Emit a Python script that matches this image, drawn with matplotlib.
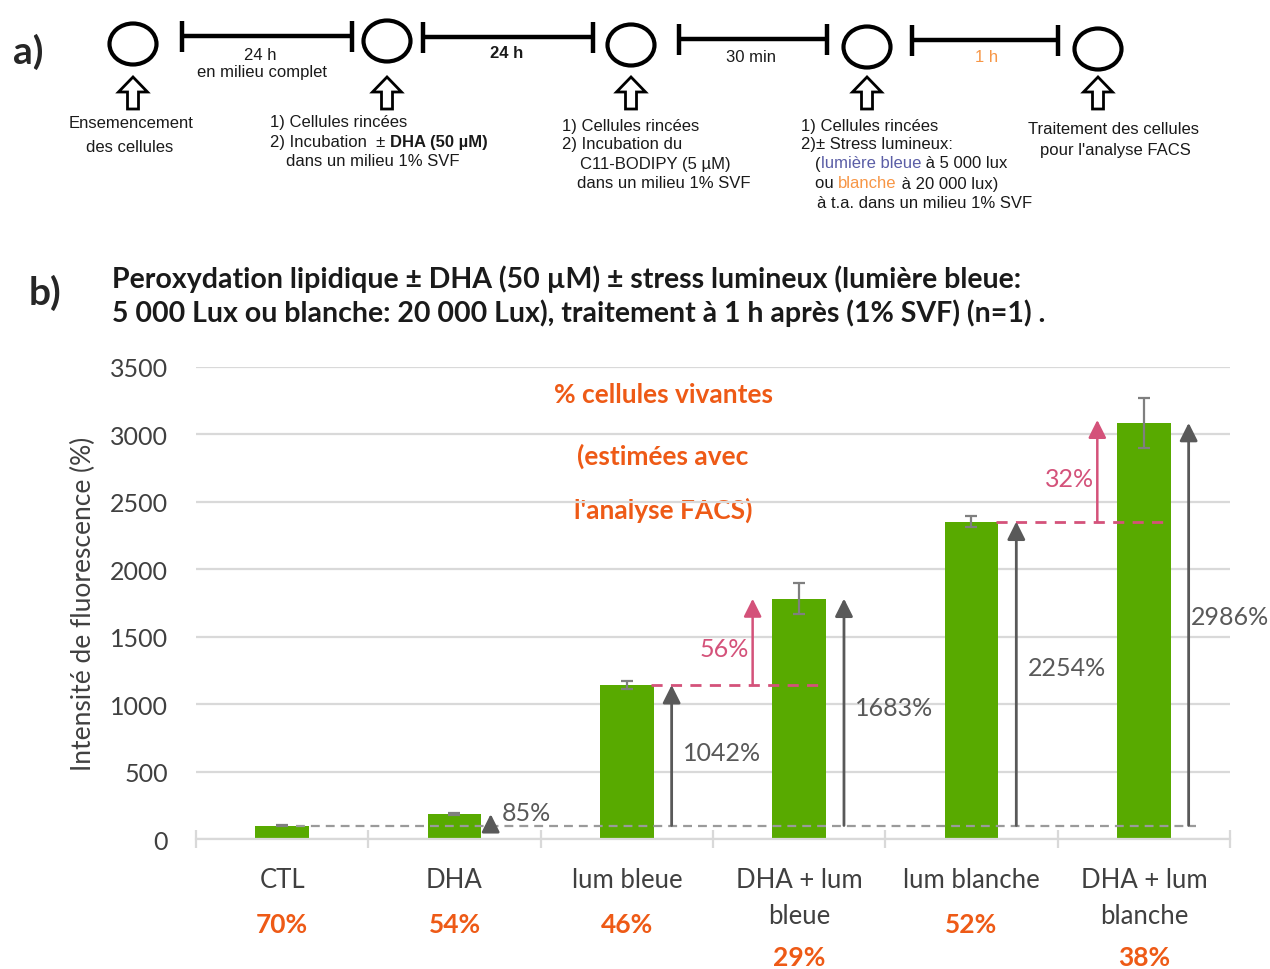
import matplotlib
matplotlib.use('Agg')
import matplotlib.pyplot as plt
import matplotlib.transforms as mtransforms
from matplotlib import font_manager
from matplotlib.patches import Ellipse, FancyArrow

# lipid peroxidation, fluorescence intensity (% of CTL)
categories = ['CTL', 'DHA', 'lum bleue', 'DHA + lum\nbleue', 'lum blanche', 'DHA + lum\nblanche']
intensity = [100, 185, 1142, 1783, 2354, 3086]
intensity_err = [5, 8, 28, 115, 38, 185]
# increase vs CTL for DHA .. DHA + lum blanche
increase_pct = [85, 1042, 1683, 2254, 2986]
# extra increase brought by DHA under each light
dha_gain_pct = [56, 32]
dha_gain_pairs = [(2, 3), (4, 5)]
# living cells after FACS
viable_pct = [70, 54, 46, 29, 52, 38]

GREEN = '#58AA00'
ORANGE = '#EE5A16'
PINK = '#D4527A'
DARK = '#595959'
TXT = '#404040'

chart_font = 'Lato'
names = {f.name for f in font_manager.fontManager.ttflist}
if 'Liberation Sans Narrow' in names:
    diag_font, diag_size = 'Liberation Sans Narrow', 14
else:
    diag_font, diag_size = 'Liberation Sans', 12

fig = plt.figure(figsize=(12.7, 9.7), dpi=100)

# full-page axes in pixel units for the protocol scheme and free text
bg = fig.add_axes([0, 0, 1, 1], zorder=0)
bg.set_xlim(0, 1270)
bg.set_ylim(970, 0)
bg.axis('off')

# ---- a) protocol timeline ----
step_x = [133, 387, 631, 867, 1098]
step_y = [45, 42, 46, 48, 50]
for cx, cy in zip(step_x, step_y):
    bg.add_patch(Ellipse((cx, cy), 47, 41, fill=False, lw=3, ec='black'))
    bg.add_patch(FancyArrow(cx, 110, 0, -32, width=11, head_width=29, head_length=15,
                            length_includes_head=True, fc='white', ec='black', lw=2))

segments = [(182, 352, 37), (423, 593, 38), (679, 827, 40), (912, 1058, 41)]
for x0, x1, y in segments:
    bg.plot([x0, x1], [y, y], color='black', lw=3.2, solid_capstyle='butt')
    for xe in (x0, x1):
        bg.plot([xe, xe], [y - 15, y + 16], color='black', lw=3.2, solid_capstyle='butt')

dkw = dict(family=diag_font, fontsize=diag_size, color='#1a1a1a', va='center')
bg.text(260, 55, '24 h', ha='center', **dkw)
bg.text(262, 73, 'en milieu complet', ha='center', **dkw)
bg.text(507, 53, '24 h', ha='center', fontweight='bold', **dkw)
bg.text(751, 57, '30 min', ha='center', **dkw)
bg.text(987, 58, '1 h', ha='center', **{**dkw, 'color': '#F79646'})


def chained(x, y, parts, ha='left'):
    """Draw consecutive text pieces with their own colour / weight on one line."""
    first, *rest = parts
    txt, style = first
    prev = bg.text(x, y, txt, ha=ha, **{**dkw, **style})
    for txt, style in rest:
        prev = bg.annotate(txt, xy=(1, 0), xycoords=prev, va='bottom',
                           **{k: v for k, v in {**dkw, **style}.items() if k != 'va'})
    return prev


bg.text(131, 123, 'Ensemencement', ha='center', **dkw)
bg.text(130, 147, 'des cellules', ha='center', **dkw)

bg.text(270, 123, '1) Cellules rincées', ha='left', **dkw)
chained(270, 142, [('2) Incubation  ± ', {}), ('DHA (50 µM)', {'fontweight': 'bold'})])
bg.text(286, 162, 'dans un milieu 1% SVF', ha='left', **dkw)

bg.text(562, 126, '1) Cellules rincées', ha='left', **dkw)
bg.text(562, 145, '2) Incubation du', ha='left', **dkw)
bg.text(580, 165, 'C11-BODIPY (5 µM)', ha='left', **dkw)
bg.text(577, 184, 'dans un milieu 1% SVF', ha='left', **dkw)

bg.text(801, 126, '1) Cellules rincées', ha='left', **dkw)
bg.text(801, 145, '2)± Stress lumineux:', ha='left', **dkw)
chained(815, 164, [('(', {}), ('lumière bleue', {'color': '#5B5EA6'}), (' à 5 000 lux', {})])
chained(815, 184, [('ou ', {}), ('blanche', {'color': '#F79646'}), (' à 20 000 lux)', {})])
bg.text(817, 203, 'à t.a. dans un milieu 1% SVF', ha='left', **dkw)

bg.text(1113, 130, 'Traitement des cellules', ha='center', **dkw)
bg.text(1115, 151, "pour l'analyse FACS", ha='center', **dkw)

bg.text(28, 52, 'a)', family=chart_font, fontsize=28, fontweight='bold',
        color='#262626', ha='center', va='center')
bg.text(45, 293, 'b)', family=chart_font, fontsize=28, fontweight='bold',
        color='#262626', ha='center', va='center')

bg.text(112, 296,
        'Peroxydation lipidique ± DHA (50 µM) ± stress lumineux (lumière bleue:\n'
        '5 000 Lux ou blanche: 20 000 Lux), traitement à 1 h après (1% SVF) (n=1) .',
        family=chart_font, fontsize=20.5, fontweight='bold', color='#1a1a1a',
        ha='left', va='center', linespacing=1.3)

for y, line in zip([395, 456, 510], ['% cellules vivantes', '(estimées avec', "l'analyse FACS)"]):
    bg.text(663, y, line, family=chart_font, fontsize=19, fontweight='bold',
            color=ORANGE, ha='center', va='center')

# ---- b) bar chart ----
ax = fig.add_axes([196 / 1270, 1 - 840 / 970, (1230 - 196) / 1270, (840 - 368) / 970], zorder=1)
ax.patch.set_alpha(0)
x = list(range(len(categories)))

ax.bar(x, intensity, width=0.31, color=GREEN, zorder=2,
       yerr=intensity_err,
       error_kw=dict(ecolor='#7F7F7F', elinewidth=1.6, capsize=4.5, capthick=1.6, zorder=3))

ax.set_xlim(-0.5, len(categories) - 0.5)
ax.set_ylim(0, 3500)
ax.set_yticks(range(0, 3501, 500))
ax.yaxis.grid(True, color='#D9D9D9', lw=1.6)
ax.set_axisbelow(True)
for side in ('top', 'right', 'left'):
    ax.spines[side].set_visible(False)
ax.spines['bottom'].set_color('#D9D9D9')
ax.spines['bottom'].set_linewidth(1.6)

ax.set_xticks(x)
ax.set_xticklabels(categories)
ax.set_xticks([i - 0.5 for i in range(len(categories) + 1)], minor=True)
ax.tick_params(axis='x', which='major', length=0, pad=20, labelsize=18.5, labelcolor=TXT)
ax.tick_params(axis='x', which='minor', direction='inout', length=13, width=1.6, color='#D9D9D9')
ax.tick_params(axis='y', length=0, pad=20, labelsize=18, labelcolor=TXT)
for lab in ax.get_xticklabels() + ax.get_yticklabels():
    lab.set_family(chart_font)
for lab in ax.get_xticklabels():
    lab.set_linespacing(1.55)

ax.set_ylabel('Intensité de fluorescence (%)', family=chart_font, fontsize=19,
              color=TXT, labelpad=10)

# CTL reference level
base = intensity[0]
ax.plot([0.08, 5.3], [base, base], color='#9A9A9A', lw=1.6, dashes=(4, 2.7), zorder=4)

arrow_kw = dict(arrowstyle='-|>,head_length=0.54,head_width=0.27', mutation_scale=20,
                shrinkA=0, shrinkB=0)

# increase vs CTL
n_inc = len(increase_pct)
for i, pct in enumerate(increase_pct, start=1):
    top = base * (1 + pct / 100)
    xa = i + (0.21 if i == 1 else 0.26)
    ax.annotate('', xy=(xa, top), xytext=(xa, base),
                arrowprops=dict(color=DARK, lw=2, **arrow_kw), zorder=5)
    ty = base + 0.52 * (top - base) if i > 1 else top + 15
    dx = 0.015 if i == n_inc else 0.065
    ax.text(xa + dx, ty, f'{pct}%', family=chart_font, fontsize=18,
            color=DARK, ha='left', va='center', zorder=6)

# extra increase with DHA
for (i0, i1), pct in zip(dha_gain_pairs, dha_gain_pct):
    start = intensity[i0]
    top = start * (1 + pct / 100)
    ax.plot([i0 + 0.14, i1 + 0.15], [start, start], color=PINK, lw=2, dashes=(4, 3), zorder=4)
    xa = i1 - 0.27
    ax.annotate('', xy=(xa, top), xytext=(xa, start),
                arrowprops=dict(color=PINK, lw=1.8, **arrow_kw), zorder=5)
    ax.text(xa - 0.02, start + 0.42 * (top - start), f'{pct}%', family=chart_font,
            fontsize=18, color=PINK, ha='right', va='center', zorder=6)

# living cells under each group
under = mtransforms.blended_transform_factory(ax.transData, ax.transAxes)
for i, (cat, v) in enumerate(zip(categories, viable_pct)):
    yy = -0.25 if '\n' in cat else -0.18
    ax.text(i, yy, f'{v}%', transform=under, family=chart_font, fontsize=19,
            fontweight='bold', color=ORANGE, ha='center', va='center')

fig.savefig('out.png', dpi=100)
